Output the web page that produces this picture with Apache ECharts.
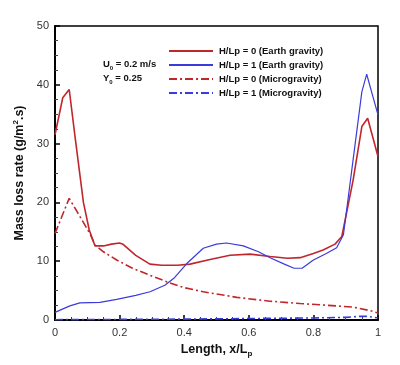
<!DOCTYPE html>
<html>
<head>
<meta charset="utf-8">
<script src="https://cdn.jsdelivr.net/npm/echarts@6/dist/echarts.min.js"></script>
<style>
  html, body { margin: 0; padding: 0; background: #fff; }
  #chart { width: 400px; height: 365px; }
</style>
</head>
<body>
<div id="chart"></div>
<script>
// mass loss rate along the sample, [x/Lp, g/m2.s]

let earth_h0 = [
    [0, 31.5], [0.024, 37.8], [0.044, 39.2], [0.062, 31.2], [0.088, 20], [0.106, 15.3],
    [0.124, 12.6], [0.15, 12.6], [0.175, 12.9], [0.2, 13.1], [0.21, 12.9], [0.25, 11.0],
    [0.294, 9.5], [0.33, 9.3], [0.38, 9.3], [0.418, 9.5], [0.48, 10.3], [0.542, 11.0],
    [0.604, 11.2], [0.666, 10.8], [0.72, 10.5], [0.759, 10.6], [0.8, 11.3], [0.83, 11.9],
    [0.867, 12.9], [0.888, 14.2], [0.923, 23.8], [0.95, 32.9], [0.968, 34.3], [1.0, 27.8]
];

let earth_h1 = [
    [0, 1.3], [0.046, 2.4], [0.077, 2.9], [0.139, 3.0], [0.191, 3.5], [0.25, 4.2],
    [0.294, 4.8], [0.34, 5.9], [0.37, 7.2], [0.408, 9.6], [0.459, 12.2], [0.5, 12.9],
    [0.531, 13.1], [0.583, 12.6], [0.63, 11.6], [0.666, 10.6], [0.71, 9.5], [0.74, 8.8],
    [0.765, 8.8], [0.8, 10.2], [0.84, 11.3], [0.872, 12.3], [0.893, 14.5], [0.92, 26],
    [0.95, 38.8], [0.965, 41.8], [1.0, 34.9]
];

let micro_h0 = [
    [0, 14.7], [0.044, 20.7], [0.075, 17.8], [0.108, 14.7], [0.124, 12.75], [0.15, 11.6],
    [0.191, 10.2], [0.24, 8.8], [0.294, 7.6], [0.356, 6.3], [0.4, 5.5], [0.459, 4.8],
    [0.563, 3.85], [0.666, 3.2], [0.759, 2.8], [0.83, 2.55], [0.923, 2.2], [0.975, 1.6],
    [1.0, 1.2]
];

let micro_h1 = [
    [0, 0.05], [0.2, 0.1], [0.4, 0.15], [0.6, 0.25], [0.8, 0.35], [0.9, 0.45],
    [0.95, 0.65], [0.97, 0.6], [1.0, 0.35]
];

let series_names = [
    "H/Lp = 0 (Earth gravity)",
    "H/Lp = 1 (Earth gravity)",
    "H/Lp = 0 (Microgravity)",
    "H/Lp = 1 (Microgravity)"
];

let red = "#c0272d";
let blue = "#3b3bdc";
let dash_dot = [8, 3, 2, 3];
let font = "Liberation Sans, Arial, sans-serif";

function make_line(name, data, color, width, type) {
    return {
        name: name,
        type: "line",
        data: data,
        symbol: "none",
        color: color,
        lineStyle: { color: color, width: width, type: type },
        z: 3
    };
}

let chart = echarts.init(document.getElementById("chart"), null, { renderer: "canvas" });

chart.setOption({
    animation: false,
    backgroundColor: "#fff",
    textStyle: { fontFamily: font },
    grid: {
        left: 55, right: 22, top: 26, bottom: 45,
        show: true, borderColor: "#000", borderWidth: 1.5
    },
    legend: {
        data: series_names,
        orient: "vertical",
        left: 163, top: 41,
        itemWidth: 44, itemHeight: 10, itemGap: 4,
        itemStyle: { opacity: 0 },
        textStyle: { fontFamily: font, fontSize: 9.5, fontWeight: "bold", color: "#111", padding: [0, 0, 0, 1] }
    },
    graphic: [{
        type: "text",
        left: 103, top: 57,
        style: {
            text: "U{s|0} = 0.2 m/s\nY{s|0} = 0.25",
            fontFamily: font, fontSize: 9.5, fontWeight: "bold", fill: "#111",
            lineHeight: 14,
            rich: { s: { fontSize: 6, fontWeight: "bold", verticalAlign: "bottom", padding: [4, 0, 0, 0] } }
        }
    }],
    xAxis: {
        type: "value",
        min: 0, max: 1, interval: 0.2,
        name: "Length, x/L{s|p}",
        nameLocation: "middle", nameGap: 21,
        nameTextStyle: {
            fontFamily: font, fontSize: 12.5, fontWeight: "bold", color: "#111",
            rich: { s: { fontSize: 8, fontWeight: "bold", padding: [8, 0, 0, 0] } }
        },
        axisLine: { lineStyle: { color: "#000", width: 2 } },
        axisTick: { inside: true, length: 5, lineStyle: { color: "#000", width: 1.5 } },
        minorTick: { show: true, splitNumber: 4, length: 3, lineStyle: { color: "#444" } },
        axisLabel: { fontFamily: font, fontSize: 11, color: "#333", margin: 7 },
        splitLine: { show: false }
    },
    yAxis: {
        type: "value",
        min: 0, max: 50, interval: 10,
        name: "Mass loss rate (g/m{t|2}.s)",
        nameLocation: "middle", nameGap: 26,
        nameTextStyle: {
            fontFamily: font, fontSize: 12.5, fontWeight: "bold", color: "#111",
            rich: { t: { fontSize: 8, fontWeight: "bold", padding: [0, 0, 7, 0] } }
        },
        axisLine: { lineStyle: { color: "#000", width: 2 } },
        axisTick: { inside: true, length: 5, lineStyle: { color: "#000", width: 1.5 } },
        minorTick: { show: true, splitNumber: 4, length: 3, lineStyle: { color: "#444" } },
        axisLabel: { fontFamily: font, fontSize: 11, color: "#333", margin: 6 },
        splitLine: { show: false }
    },
    series: [
        make_line(series_names[0], earth_h0, red, 1.6, "solid"),
        make_line(series_names[1], earth_h1, blue, 1.2, "solid"),
        make_line(series_names[2], micro_h0, red, 1.6, dash_dot),
        make_line(series_names[3], micro_h1, blue, 1.6, dash_dot)
    ]
});
</script>
</body>
</html>
